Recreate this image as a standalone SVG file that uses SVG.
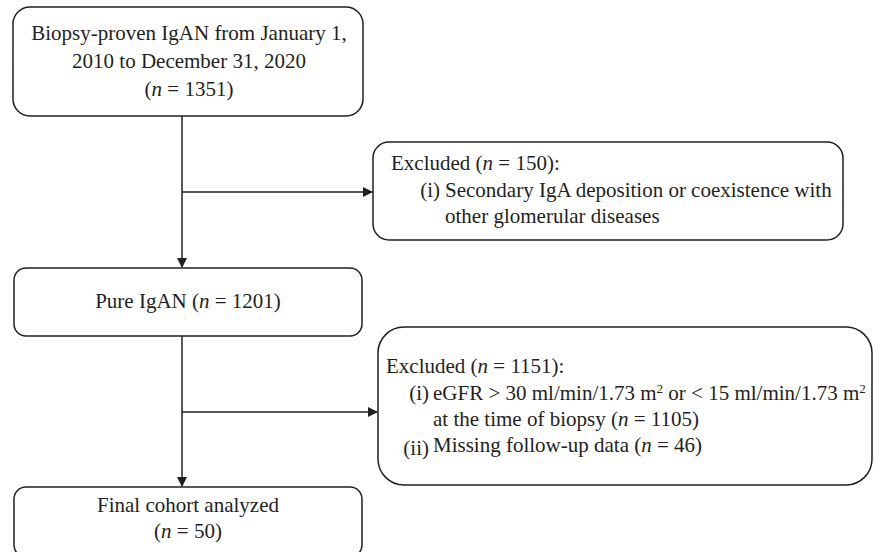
<svg xmlns="http://www.w3.org/2000/svg" width="874" height="552" viewBox="0 0 874 552">
<style>
.box{fill:#fff;stroke:#231f20;stroke-width:1.5}
.t{font-family:"Liberation Serif","Times New Roman",serif;font-size:21px;fill:#231f20}
.c{text-anchor:middle}
.e{text-anchor:end}
.ln{stroke:#231f20;stroke-width:1.5;fill:none}
</style>
<defs>
<marker id="ah" markerWidth="10" markerHeight="10" refX="9" refY="5" orient="auto" markerUnits="userSpaceOnUse">
<path d="M0,0 L10,5 L0,10 Z" fill="#231f20"/>
</marker>
</defs>
<g id="connectors">
<line class="ln" x1="182" y1="116" x2="182" y2="267" marker-end="url(#ah)"/>
<line class="ln" x1="182" y1="192" x2="372" y2="192" marker-end="url(#ah)"/>
<line class="ln" x1="182" y1="336" x2="182" y2="486" marker-end="url(#ah)"/>
<line class="ln" x1="182" y1="412" x2="377" y2="412" marker-end="url(#ah)"/>
</g>
<g id="n1">
<rect class="box" x="13" y="7" width="350" height="109" rx="17"/>
<text class="t c" x="189" y="40">Biopsy-proven IgAN from January 1,</text>
<text class="t c" x="189" y="68">2010 to December 31, 2020</text>
<text class="t c" x="189" y="96">(<tspan font-style="italic">n</tspan> = 1351)</text>
</g>
<g id="n2">
<rect class="box" x="373" y="142" width="470" height="98" rx="16"/>
<text class="t" x="391" y="170">Excluded (<tspan font-style="italic">n</tspan> = 150):</text>
<text class="t e" x="440" y="197">(i)</text>
<text class="t" x="445" y="197">Secondary IgA deposition or coexistence with</text>
<text class="t" x="445" y="223">other glomerular diseases</text>
</g>
<g id="n3">
<rect class="box" x="14" y="268" width="348" height="68" rx="12"/>
<text class="t c" x="188" y="308">Pure IgAN (<tspan font-style="italic">n</tspan> = 1201)</text>
</g>
<g id="n4">
<rect class="box" x="378" y="327" width="494" height="158" rx="26"/>
<text class="t" x="386" y="373">Excluded (<tspan font-style="italic">n</tspan> = 1151):</text>
<text class="t e" x="429" y="400">(i)</text>
<text class="t" x="433" y="400">eGFR &gt; 30 ml/min/1.73 m<tspan font-size="13" dy="-7">2</tspan><tspan dy="7"> or &lt; 15 ml/min/1.73 m</tspan><tspan font-size="13" dy="-7">2</tspan></text>
<text class="t" x="433" y="426">at the time of biopsy (<tspan font-style="italic">n</tspan> = 1105)</text>
<text class="t e" x="429" y="455">(ii)</text>
<text class="t" x="433" y="452">Missing follow-up data (<tspan font-style="italic">n</tspan> = 46)</text>
</g>
<g id="n5">
<rect class="box" x="14" y="487" width="348" height="70" rx="12"/>
<text class="t c" x="188" y="512">Final cohort analyzed</text>
<text class="t c" x="188" y="538">(<tspan font-style="italic">n</tspan> = 50)</text>
</g>
</svg>
